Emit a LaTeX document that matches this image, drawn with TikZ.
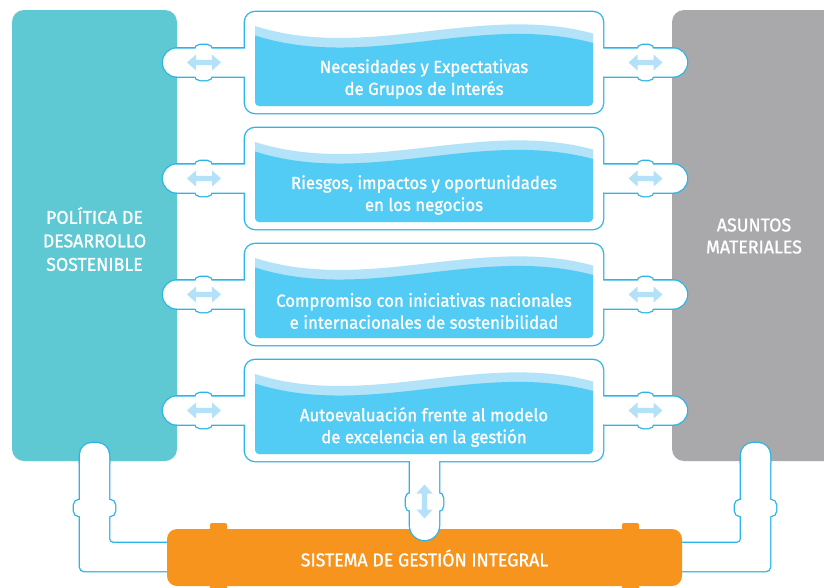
\documentclass[tikz,border=0pt]{standalone}
\usepackage{fontspec}
\setmainfont[FakeStretch=0.96,FakeBold=1.2]{Fira Sans}
\definecolor{tealbox}{HTML}{5EC8D3}
\definecolor{graybox}{HTML}{A9A9AB}
\definecolor{orangebox}{HTML}{F7941D}
\definecolor{cyanline}{HTML}{2BB5E8}
\definecolor{bluefill}{HTML}{52CBF5}
\definecolor{lightband}{HTML}{B2E3F8}
\definecolor{arrowc}{HTML}{B3E1F7}
\newcommand\bottompipes{%
  \path[pipeshape,rounded corners=4] (80,455) -- (80,571) -- (185,571) -- (185,543) -- (109,543) -- (109,455) -- cycle;
  \path[pipeshape,rounded corners=12] (80,443) rectangle (109,475);
  \path[pipeshape,rounded corners=5] (74,500) rectangle (115,516);
  \path[pipeshape,rounded corners=4] (770,455) -- (770,571) -- (665,571) -- (665,543) -- (741,543) -- (741,455) -- cycle;
  \path[pipeshape,rounded corners=12] (741,443) rectangle (770,475);
  \path[pipeshape,rounded corners=5] (735,500) rectangle (776,516);
}
\newcommand\boxpipes{%
  \foreach \T in {12,128,244,360}{
    \begin{scope}[shift={(0,\T)}]
      \path[pipeshape,rounded corners=10] (245,0) rectangle (603,101);
      \path[pipeshape,rounded corners=14] (163,36.5) rectangle (260,64.5);
      \path[pipeshape,rounded corners=5] (195,33) rectangle (212,68);
      \path[pipeshape,rounded corners=14] (590,36.5) rectangle (687,64.5);
      \path[pipeshape,rounded corners=5] (637.5,33) rectangle (653.5,68);
    \end{scope}
  }
  \path[pipeshape,rounded corners=14.5] (410,440) rectangle (439,540);
  \path[pipeshape,rounded corners=5] (406,493) rectangle (443,511);
}
\newcommand\dblarrow[3]{%
  \fill[arrowc,shift={(#1,#2)},rotate=#3] (-17,0) -- (-8,-8) -- (-8,-2.7) -- (8,-2.7) -- (8,-8) -- (17,0) -- (8,8) -- (8,2.7) -- (-8,2.7) -- (-8,8) -- cycle;
}
\tikzset{
  boxtext/.style={text=white,align=center,font=\fontsize{17.5}{22}\selectfont},
  labeltext/.style={text=white,align=center,font=\fontsize{18.5}{23.5}\selectfont},
}
\begin{document}
\begin{tikzpicture}[x=1pt,y=-1pt]
\clip (0,0) rectangle (824,587);
\fill[white] (0,0) rectangle (824,587);
% side boxes
\fill[tealbox,rounded corners=12] (12,10) rectangle (177,461);
\fill[graybox,rounded corners=12] (672,10) rectangle (850,461);
% bottom side pipes
\begin{scope}[pipeshape/.style={draw=cyanline,line width=2.6pt}]\bottompipes\end{scope}
\begin{scope}[pipeshape/.style={fill=white}]\bottompipes\end{scope}
% orange box
\fill[orangebox,rounded corners=2] (210,523) rectangle (227,595);
\fill[orangebox,rounded corners=2] (622,523) rectangle (639,595);
\fill[orangebox,rounded corners=10] (167,529) rectangle (682,586);
% boxes and pipes
\begin{scope}[pipeshape/.style={draw=cyanline,line width=2.6pt}]\boxpipes\end{scope}
\begin{scope}[pipeshape/.style={fill=white}]\boxpipes\end{scope}
% inner blue boxes
\foreach \T in {12,128,244,360}{
  \begin{scope}[shift={(0,\T)}]
    \fill[lightband] (255,14) .. controls (368,49.8) and (480,-9) .. (593,21.5)
      -- (593,90) arc[start angle=0,end angle=90,radius=4] -- (259,94) arc[start angle=90,end angle=180,radius=4] -- cycle;
    \fill[bluefill] (255,23.5) .. controls (368,59.4) and (480,0.5) .. (593,31)
      -- (593,90) arc[start angle=0,end angle=90,radius=4] -- (259,94) arc[start angle=90,end angle=180,radius=4] -- cycle;
    \dblarrow{204}{50.5}{0}
    \dblarrow{645.5}{50.5}{0}
  \end{scope}
}
\dblarrow{424.5}{501.5}{90}
% texts
\node[boxtext] (t1) at (424,79) {Necesidades y Expectativas\\de Grupos de Interés};
\node[boxtext] (t2) at (424,195) {Riesgos, impactos y oportunidades\\en los negocios};
\node[boxtext] (t3) at (424,311) {Compromiso con iniciativas nacionales\\e internacionales de sostenibilidad};
\node[boxtext] (t4) at (424,427) {Autoevaluación frente al modelo\\de excelencia en la gestión};
\node[labeltext] (pol) at (94.5,239) {POLÍTICA DE\\DESARROLLO\\SOSTENIBLE};
\node[labeltext,font=\fontsize{18.5}{22}\selectfont] (asu) at (754,236) {ASUNTOS\\MATERIALES};
\node[labeltext] (sgi) at (424.5,558) {SISTEMA DE GESTIÓN INTEGRAL};
\end{tikzpicture}
\end{document}
